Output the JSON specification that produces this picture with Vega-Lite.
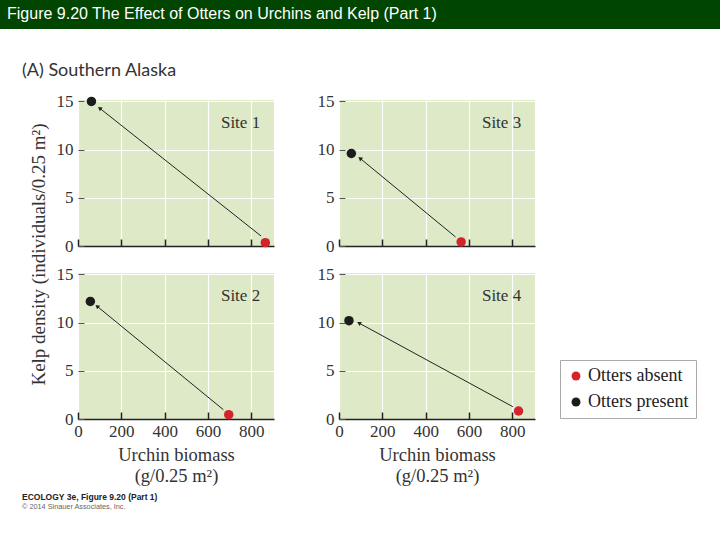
{
  "$schema": "https://vega.github.io/schema/vega-lite/v6.json",
  "padding": 0,
  "background": "white",
  "bounds": "flush",
  "spacing": 71,
  "config": {
    "view": {"stroke": null},
    "axis": {"labelFont": "Liberation Serif", "labelFontSize": 17, "labelColor": "#333333", "titleFont": "Liberation Serif", "titleFontSize": 18.5, "titleFontWeight": "normal", "titleColor": "#333333", "gridColor": "#ffffff", "gridWidth": 1.2, "gridOpacity": 1, "grid": true, "labelFlush": false},
    "axisX": {"domainColor": "#222222", "domainWidth": 1.5, "tickColor": "#222222", "tickWidth": 1.5, "tickSize": -7, "labelPadding": 11, "titlePadding": 6, "titleLineHeight": 21},
    "axisY": {"domain": false, "tickColor": "#555555", "tickWidth": 1, "tickSize": -6, "labelPadding": 11},
    "legend": {"title": null, "orient": "none", "legendX": 560, "legendY": 360, "fillColor": "white", "strokeColor": "#aaaaaa", "padding": 7, "symbolType": "circle", "symbolSize": 80, "symbolStrokeWidth": 0, "labelFont": "Liberation Serif", "labelFontSize": 18, "labelColor": "#222222", "rowPadding": 8, "labelOffset": 3}
  },
  "datasets": {
    "points": [
      {"site": "Site 1", "otters": "Otters absent", "biomass": 865, "kelp": 0.35},
      {"site": "Site 1", "otters": "Otters present", "biomass": 62, "kelp": 15},
      {"site": "Site 2", "otters": "Otters absent", "biomass": 696, "kelp": 0.45},
      {"site": "Site 2", "otters": "Otters present", "biomass": 57, "kelp": 12.2},
      {"site": "Site 3", "otters": "Otters absent", "biomass": 564, "kelp": 0.42},
      {"site": "Site 3", "otters": "Otters present", "biomass": 57, "kelp": 9.6},
      {"site": "Site 4", "otters": "Otters absent", "biomass": 829, "kelp": 0.83},
      {"site": "Site 4", "otters": "Otters present", "biomass": 46, "kelp": 10.2}
    ],
    "arrows": [
      {"site": "Site 1", "biomass": 100, "kelp": 14.3, "biomass2": 845, "kelp2": 1.04},
      {"site": "Site 2", "biomass": 88, "kelp": 11.7, "biomass2": 671, "kelp2": 0.97},
      {"site": "Site 3", "biomass": 97, "kelp": 9.1, "biomass2": 538, "kelp2": 0.94},
      {"site": "Site 4", "biomass": 92, "kelp": 9.96, "biomass2": 803, "kelp2": 1.27}
    ],
    "labels": [
      {"site": "Site 1"}, {"site": "Site 2"}, {"site": "Site 3"}, {"site": "Site 4"}
    ]
  },
  "vconcat": [
    {
      "width": 720,
      "height": 29,
      "view": {"fill": "#004600"},
      "data": {"values": [{"t": 1}]},
      "mark": {"type": "point", "opacity": 0, "size": 0},
      "title": {"text": "Figure 9.20  The Effect of Otters on Urchins and Kelp (Part 1)", "anchor": "start", "frame": "group", "orient": "top", "offset": -35, "baseline": "alphabetic", "dx": 7, "color": "white", "font": "Liberation Sans", "fontSize": 16, "fontWeight": "normal"}
    },
    {
      "bounds": "flush",
      "spacing": 77,
      "hconcat": [
        {"width": 1, "height": 1, "data": {"values": [{"t": 1}]}, "mark": {"type": "point", "opacity": 0, "size": 0}},
        {
          "bounds": "flush",
          "columns": 2,
          "spacing": {"row": 27, "column": 65},
          "concat": [
            {
              "width": 196, "height": 146,
              "view": {"fill": "#dde9c7"},
              "title": {"text": "(A) Southern Alaska", "anchor": "start", "frame": "group", "orient": "top", "dx": -56, "offset": -2, "baseline": "alphabetic", "font": "Lato", "fontSize": 18, "fontWeight": "normal", "color": "#333333"},
              "layer": [
                {"data": {"name": "arrows"}, "transform": [{"filter": "datum.site === 'Site 1'"}], "mark": {"type": "rule", "color": "#222222", "strokeWidth": 1},
                 "encoding": {
                   "x": {"field": "biomass", "type": "quantitative", "scale": {"domain": [0, 905], "nice": false, "zero": false}, "axis": {"values": [0, 200, 400, 600, 800], "labels": false, "title": null}},
                   "y": {"field": "kelp", "type": "quantitative", "scale": {"domain": [0, 15.15], "nice": false}, "axis": {"values": [0, 5, 10, 15], "title": "Kelp density (individuals/0.25 m²)", "titleX": -40, "titleY": 154, "titleAngle": -90, "titleBaseline": "middle", "titleAlign": "center", "titleFontSize": 19}},
                   "x2": {"field": "biomass2"}, "y2": {"field": "kelp2"}}},
                {"data": {"name": "arrows"}, "transform": [{"filter": "datum.site === 'Site 1'"}, {"calculate": "atan2((datum.biomass - datum.biomass2) * 0.2166, (datum.kelp - datum.kelp2) * 9.64) * 180 / PI", "as": "ang"}], "mark": {"type": "point", "shape": "triangle-up", "filled": true, "color": "#222222", "size": 22, "opacity": 1},
                 "encoding": {
                   "x": {"field": "biomass", "type": "quantitative", "scale": {"domain": [0, 905], "nice": false, "zero": false}, "axis": {"values": [0, 200, 400, 600, 800], "labels": false, "title": null}},
                   "y": {"field": "kelp", "type": "quantitative", "scale": {"domain": [0, 15.15], "nice": false}, "axis": {"values": [0, 5, 10, 15], "title": "Kelp density (individuals/0.25 m²)", "titleX": -40, "titleY": 154, "titleAngle": -90, "titleBaseline": "middle", "titleAlign": "center", "titleFontSize": 19}},
                   "angle": {"field": "ang", "type": "quantitative", "scale": null}}},
                {"data": {"name": "points"}, "transform": [{"filter": "datum.site === 'Site 1'"}], "mark": {"type": "circle", "size": 90, "opacity": 1},
                 "encoding": {
                   "x": {"field": "biomass", "type": "quantitative", "scale": {"domain": [0, 905], "nice": false, "zero": false}, "axis": {"values": [0, 200, 400, 600, 800], "labels": false, "title": null}},
                   "y": {"field": "kelp", "type": "quantitative", "scale": {"domain": [0, 15.15], "nice": false}, "axis": {"values": [0, 5, 10, 15], "title": "Kelp density (individuals/0.25 m²)", "titleX": -40, "titleY": 154, "titleAngle": -90, "titleBaseline": "middle", "titleAlign": "center", "titleFontSize": 19}},
                   "color": {"field": "otters", "type": "nominal", "scale": {"domain": ["Otters absent", "Otters present"], "range": ["#d3242b", "#1c1c1c"]}}}},
                {"data": {"name": "labels"}, "transform": [{"filter": "datum.site === 'Site 1'"}], "mark": {"type": "text", "align": "left", "baseline": "middle", "font": "Liberation Serif", "fontSize": 17, "color": "#333333"},
                 "encoding": {"x": {"datum": 660}, "y": {"datum": 12.8}, "text": {"field": "site"}}}
              ]
            },
            {
              "width": 196, "height": 146,
              "view": {"fill": "#dde9c7"},
              "layer": [
                {"data": {"name": "arrows"}, "transform": [{"filter": "datum.site === 'Site 3'"}], "mark": {"type": "rule", "color": "#222222", "strokeWidth": 1},
                 "encoding": {
                   "x": {"field": "biomass", "type": "quantitative", "scale": {"domain": [0, 905], "nice": false, "zero": false}, "axis": {"values": [0, 200, 400, 600, 800], "labels": false, "title": null}},
                   "y": {"field": "kelp", "type": "quantitative", "scale": {"domain": [0, 15.15], "nice": false}, "axis": {"values": [0, 5, 10, 15], "title": null}},
                   "x2": {"field": "biomass2"}, "y2": {"field": "kelp2"}}},
                {"data": {"name": "arrows"}, "transform": [{"filter": "datum.site === 'Site 3'"}, {"calculate": "atan2((datum.biomass - datum.biomass2) * 0.2166, (datum.kelp - datum.kelp2) * 9.64) * 180 / PI", "as": "ang"}], "mark": {"type": "point", "shape": "triangle-up", "filled": true, "color": "#222222", "size": 22, "opacity": 1},
                 "encoding": {
                   "x": {"field": "biomass", "type": "quantitative", "scale": {"domain": [0, 905], "nice": false, "zero": false}, "axis": {"values": [0, 200, 400, 600, 800], "labels": false, "title": null}},
                   "y": {"field": "kelp", "type": "quantitative", "scale": {"domain": [0, 15.15], "nice": false}, "axis": {"values": [0, 5, 10, 15], "title": null}},
                   "angle": {"field": "ang", "type": "quantitative", "scale": null}}},
                {"data": {"name": "points"}, "transform": [{"filter": "datum.site === 'Site 3'"}], "mark": {"type": "circle", "size": 90, "opacity": 1},
                 "encoding": {
                   "x": {"field": "biomass", "type": "quantitative", "scale": {"domain": [0, 905], "nice": false, "zero": false}, "axis": {"values": [0, 200, 400, 600, 800], "labels": false, "title": null}},
                   "y": {"field": "kelp", "type": "quantitative", "scale": {"domain": [0, 15.15], "nice": false}, "axis": {"values": [0, 5, 10, 15], "title": null}},
                   "color": {"field": "otters", "type": "nominal", "scale": {"domain": ["Otters absent", "Otters present"], "range": ["#d3242b", "#1c1c1c"]}}}},
                {"data": {"name": "labels"}, "transform": [{"filter": "datum.site === 'Site 3'"}], "mark": {"type": "text", "align": "left", "baseline": "middle", "font": "Liberation Serif", "fontSize": 17, "color": "#333333"},
                 "encoding": {"x": {"datum": 660}, "y": {"datum": 12.8}, "text": {"field": "site"}}}
              ]
            },
            {
              "width": 196, "height": 146,
              "view": {"fill": "#dde9c7"},
              "title": {"text": "ECOLOGY 3e, Figure 9.20 (Part 1)", "subtitle": "© 2014 Sinauer Associates, Inc.", "orient": "bottom", "anchor": "start", "frame": "group", "dx": -56, "offset": 8, "baseline": "top", "font": "Liberation Sans", "fontSize": 8.5, "fontWeight": "bold", "color": "#222222", "subtitleFont": "Liberation Sans", "subtitleFontSize": 7.3, "subtitleColor": "#666666", "subtitlePadding": 2},
              "layer": [
                {"data": {"name": "arrows"}, "transform": [{"filter": "datum.site === 'Site 2'"}], "mark": {"type": "rule", "color": "#222222", "strokeWidth": 1},
                 "encoding": {
                   "x": {"field": "biomass", "type": "quantitative", "scale": {"domain": [0, 905], "nice": false, "zero": false}, "axis": {"values": [0, 200, 400, 600, 800], "title": ["Urchin biomass", "(g/0.25 m²)"]}},
                   "y": {"field": "kelp", "type": "quantitative", "scale": {"domain": [0, 15.15], "nice": false}, "axis": {"values": [0, 5, 10, 15], "title": null}},
                   "x2": {"field": "biomass2"}, "y2": {"field": "kelp2"}}},
                {"data": {"name": "arrows"}, "transform": [{"filter": "datum.site === 'Site 2'"}, {"calculate": "atan2((datum.biomass - datum.biomass2) * 0.2166, (datum.kelp - datum.kelp2) * 9.64) * 180 / PI", "as": "ang"}], "mark": {"type": "point", "shape": "triangle-up", "filled": true, "color": "#222222", "size": 22, "opacity": 1},
                 "encoding": {
                   "x": {"field": "biomass", "type": "quantitative", "scale": {"domain": [0, 905], "nice": false, "zero": false}, "axis": {"values": [0, 200, 400, 600, 800], "title": ["Urchin biomass", "(g/0.25 m²)"]}},
                   "y": {"field": "kelp", "type": "quantitative", "scale": {"domain": [0, 15.15], "nice": false}, "axis": {"values": [0, 5, 10, 15], "title": null}},
                   "angle": {"field": "ang", "type": "quantitative", "scale": null}}},
                {"data": {"name": "points"}, "transform": [{"filter": "datum.site === 'Site 2'"}], "mark": {"type": "circle", "size": 90, "opacity": 1},
                 "encoding": {
                   "x": {"field": "biomass", "type": "quantitative", "scale": {"domain": [0, 905], "nice": false, "zero": false}, "axis": {"values": [0, 200, 400, 600, 800], "title": ["Urchin biomass", "(g/0.25 m²)"]}},
                   "y": {"field": "kelp", "type": "quantitative", "scale": {"domain": [0, 15.15], "nice": false}, "axis": {"values": [0, 5, 10, 15], "title": null}},
                   "color": {"field": "otters", "type": "nominal", "scale": {"domain": ["Otters absent", "Otters present"], "range": ["#d3242b", "#1c1c1c"]}}}},
                {"data": {"name": "labels"}, "transform": [{"filter": "datum.site === 'Site 2'"}], "mark": {"type": "text", "align": "left", "baseline": "middle", "font": "Liberation Serif", "fontSize": 17, "color": "#333333"},
                 "encoding": {"x": {"datum": 660}, "y": {"datum": 12.8}, "text": {"field": "site"}}}
              ]
            },
            {
              "width": 196, "height": 146,
              "view": {"fill": "#dde9c7"},
              "layer": [
                {"data": {"name": "arrows"}, "transform": [{"filter": "datum.site === 'Site 4'"}], "mark": {"type": "rule", "color": "#222222", "strokeWidth": 1},
                 "encoding": {
                   "x": {"field": "biomass", "type": "quantitative", "scale": {"domain": [0, 905], "nice": false, "zero": false}, "axis": {"values": [0, 200, 400, 600, 800], "title": ["Urchin biomass", "(g/0.25 m²)"]}},
                   "y": {"field": "kelp", "type": "quantitative", "scale": {"domain": [0, 15.15], "nice": false}, "axis": {"values": [0, 5, 10, 15], "title": null}},
                   "x2": {"field": "biomass2"}, "y2": {"field": "kelp2"}}},
                {"data": {"name": "arrows"}, "transform": [{"filter": "datum.site === 'Site 4'"}, {"calculate": "atan2((datum.biomass - datum.biomass2) * 0.2166, (datum.kelp - datum.kelp2) * 9.64) * 180 / PI", "as": "ang"}], "mark": {"type": "point", "shape": "triangle-up", "filled": true, "color": "#222222", "size": 22, "opacity": 1},
                 "encoding": {
                   "x": {"field": "biomass", "type": "quantitative", "scale": {"domain": [0, 905], "nice": false, "zero": false}, "axis": {"values": [0, 200, 400, 600, 800], "title": ["Urchin biomass", "(g/0.25 m²)"]}},
                   "y": {"field": "kelp", "type": "quantitative", "scale": {"domain": [0, 15.15], "nice": false}, "axis": {"values": [0, 5, 10, 15], "title": null}},
                   "angle": {"field": "ang", "type": "quantitative", "scale": null}}},
                {"data": {"name": "points"}, "transform": [{"filter": "datum.site === 'Site 4'"}], "mark": {"type": "circle", "size": 90, "opacity": 1},
                 "encoding": {
                   "x": {"field": "biomass", "type": "quantitative", "scale": {"domain": [0, 905], "nice": false, "zero": false}, "axis": {"values": [0, 200, 400, 600, 800], "title": ["Urchin biomass", "(g/0.25 m²)"]}},
                   "y": {"field": "kelp", "type": "quantitative", "scale": {"domain": [0, 15.15], "nice": false}, "axis": {"values": [0, 5, 10, 15], "title": null}},
                   "color": {"field": "otters", "type": "nominal", "scale": {"domain": ["Otters absent", "Otters present"], "range": ["#d3242b", "#1c1c1c"]}}}},
                {"data": {"name": "labels"}, "transform": [{"filter": "datum.site === 'Site 4'"}], "mark": {"type": "text", "align": "left", "baseline": "middle", "font": "Liberation Serif", "fontSize": 17, "color": "#333333"},
                 "encoding": {"x": {"datum": 660}, "y": {"datum": 12.8}, "text": {"field": "site"}}}
              ]
            }
          ]
        }
      ]
    }
  ]
}
